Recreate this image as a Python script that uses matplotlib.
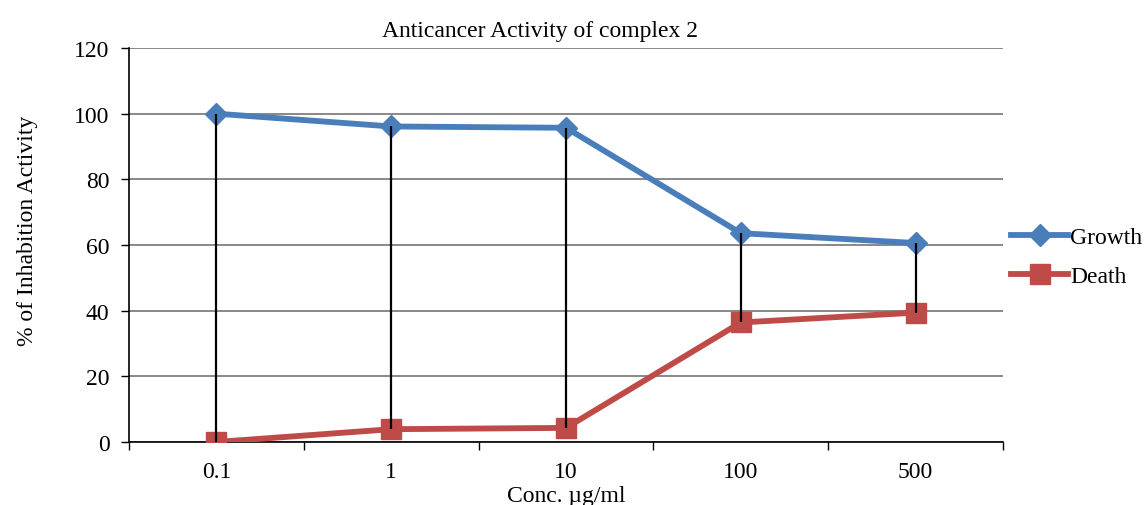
import numpy as np
import matplotlib.pyplot as plt

plt.rcParams['font.family'] = ['Liberation Serif', 'DejaVu Serif']

conc_labels = ['0.1', '1', '10', '100', '500']
growth = [100.0, 96.1, 95.7, 63.6, 60.6]
death = [0.0, 3.9, 4.3, 36.4, 39.4]

blue = '#4A7EBB'
red = '#BE4B48'

fig = plt.figure(figsize=(11.46, 5.06), dpi=100)
ax = fig.add_axes([129 / 1146, 1 - 443 / 506, (1003 - 129) / 1146, (443 - 49) / 506])

x = np.arange(len(conc_labels))

# high-low lines between the two series
ax.vlines(x, death, growth, colors='black', linewidth=1.6, zorder=4)

ax.plot(x, growth, color=blue, linewidth=4.2, marker='D', markersize=11.5,
        label='Growth', zorder=3)
ax.plot(x, death, color=red, linewidth=4.2, marker='s', markersize=14,
        label='Death', zorder=3)

ax.set_xlim(-0.5, len(conc_labels) - 0.5)
ax.set_ylim(0, 120)
ax.set_yticks(np.arange(0, 121, 20))
ax.yaxis.grid(True, color='#888888', linewidth=1.4)
ax.set_axisbelow(True)

ax.set_xticks(x)
ax.set_xticklabels(conc_labels)
ax.set_xticks(np.arange(-0.5, len(conc_labels), 1), minor=True)
ax.tick_params(axis='x', which='major', length=0, pad=14, labelsize=17)
ax.tick_params(axis='x', which='minor', length=6, width=1, direction='out')
ax.tick_params(axis='y', length=6, width=1, direction='out', labelsize=17, pad=8)

for side in ['top', 'right']:
    ax.spines[side].set_visible(False)
for side in ['left', 'bottom']:
    ax.spines[side].set_linewidth(1.2)

ax.set_title('Anticancer Activity of complex 2', fontsize=17, pad=9, x=0.47)
ax.set_xlabel('Conc. µg/ml', fontsize=17, labelpad=2)
ax.set_ylabel('% of Inhabition Activity', fontsize=17, labelpad=26, y=0.538)

ax.legend(loc='center left', bbox_to_anchor=(1.0, 0.47), frameon=False,
          fontsize=17, handlelength=2.4, handletextpad=0.1, labelspacing=0.75,
          borderaxespad=0.0, borderpad=0.35)

fig.savefig('out.png', dpi=100)
